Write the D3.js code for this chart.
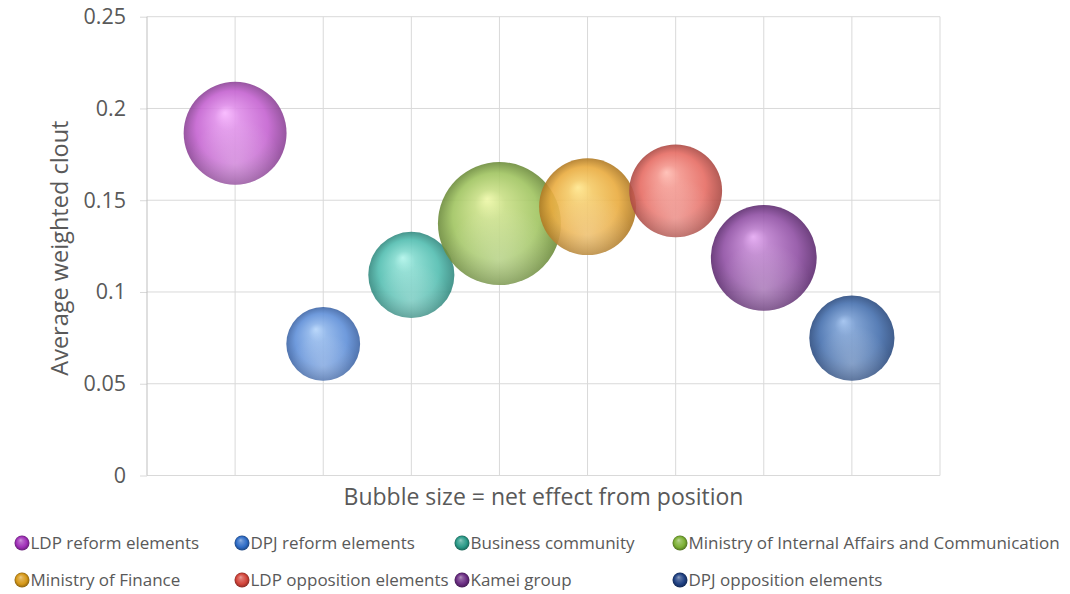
<!DOCTYPE html>
<html>
<head>
<meta charset="utf-8">
<script src="https://cdn.jsdelivr.net/npm/d3@7"></script>
<style>
  body { margin: 0; background: #fff; }
  svg { display: block; font-family: "Open Sans", "Liberation Sans", sans-serif; }
</style>
</head>
<body>
<div id="chart"></div>
<script>
// data
var groups = ["LDP reform elements", "DPJ reform elements", "Business community",
              "Ministry of Internal Affairs and Communication", "Ministry of Finance",
              "LDP opposition elements", "Kamei group", "DPJ opposition elements"];
var clout = [0.1865, 0.0717, 0.1093, 0.1373, 0.1465, 0.1551, 0.1186, 0.0749];
var netEffect = [0.070, 0.036, 0.049, 0.100, 0.062, 0.057, 0.074, 0.048];
var yTicks = [0, 0.05, 0.1, 0.15, 0.2, 0.25];
var yTickLabels = ["0", "0.05", "0.1", "0.15", "0.2", "0.25"];

// sphere colours: highlight, base, edge
var lightCols = ["#f8b6ff", "#b4d4fa", "#b0f4ea", "#eef8a8", "#ffe68c", "#ffbcb2", "#e4a8f2", "#9ec0ee"];
var baseCols  = ["#c462d0", "#5f8fd8", "#52bdb0", "#a0c460", "#e9ab3e", "#e66c63", "#9050a4", "#4670ae"];
var edgeCols  = ["#8c4496", "#3f66a6", "#348a80", "#6d8c3c", "#b07a24", "#ab4a44", "#5e2c70", "#2c4c80"];
// legend markers are darker / more saturated
var legendCols = ["#a030b8", "#2e6cc6", "#2a9a88", "#7cb034", "#d69818", "#d2443a", "#6a2c82", "#1f4082"];

var W = 1070, H = 594;
var margin = {top: 16.7, right: 130, bottom: 118.5, left: 147},
    width = W - margin.left - margin.right,
    height = H - margin.top - margin.bottom;

var svg = d3.select("#chart").append("svg")
    .attr("width", W)
    .attr("height", H);

var defs = svg.append("defs");

function sphereGrad(id, light, base, edge) {
  var g = defs.append("radialGradient")
      .attr("id", id)
      .attr("cx", "50%").attr("cy", "50%").attr("r", "50%")
      .attr("fx", "40%").attr("fy", "30%");
  g.append("stop").attr("offset", "0%").attr("stop-color", light);
  g.append("stop").attr("offset", "25%").attr("stop-color", d3.interpolateRgb(light, base)(0.5));
  g.append("stop").attr("offset", "70%").attr("stop-color", base);
  g.append("stop").attr("offset", "100%").attr("stop-color", edge);
}

groups.forEach(function(d, i) {
  sphereGrad("sph" + i, lightCols[i], baseCols[i], edgeCols[i]);
  sphereGrad("leg" + i, d3.interpolateRgb(legendCols[i], "#fff")(0.5), legendCols[i],
             d3.interpolateRgb(legendCols[i], "#000")(0.35));
});

// soft bottom reflection
var refl = defs.append("radialGradient")
    .attr("id", "refl")
    .attr("cx", "50%").attr("cy", "80%").attr("r", "45%");
refl.append("stop").attr("offset", "0%").attr("stop-color", "#fff").attr("stop-opacity", 0.28);
refl.append("stop").attr("offset", "100%").attr("stop-color", "#fff").attr("stop-opacity", 0);

var g = svg.append("g")
    .attr("transform", "translate(" + margin.left + "," + margin.top + ")");

var x = d3.scaleLinear()
    .domain([0, groups.length + 1])
    .range([0, width]);

var y = d3.scaleLinear()
    .domain([0, 0.25])
    .range([height, 0]);

var r = d3.scaleSqrt()
    .domain([0, d3.max(netEffect)])
    .range([0, 61.5]);

// vertical gridlines
g.selectAll(".vgrid")
    .data(d3.range(1, groups.length + 2))
  .enter().append("line")
    .attr("class", "vgrid")
    .attr("x1", function(d) { return x(d); })
    .attr("x2", function(d) { return x(d); })
    .attr("y1", 0)
    .attr("y2", height)
    .style("stroke", "#d9d9d9")
    .style("stroke-width", 1);

// y axis with gridlines
var yAxis = g.append("g")
    .attr("class", "y axis")
    .call(d3.axisLeft(y)
      .tickValues(yTicks)
      .tickSize(7)
      .tickPadding(14)
      .tickFormat(function(d, i) { return yTickLabels[i]; }));

yAxis.select(".domain").remove();
yAxis.selectAll(".tick line").style("stroke", "#d9d9d9");
yAxis.selectAll(".tick text")
    .style("font-size", "21.5px")
    .style("fill", "#595959")
    .style("font-family", "'Open Sans', sans-serif");

g.selectAll(".hgrid")
    .data(yTicks)
  .enter().append("line")
    .attr("class", "hgrid")
    .attr("x1", 0)
    .attr("x2", width)
    .attr("y1", function(d) { return y(d); })
    .attr("y2", function(d) { return y(d); })
    .style("stroke", "#d9d9d9")
    .style("stroke-width", 1);

// left axis line
g.append("line")
    .attr("x1", 0).attr("x2", 0)
    .attr("y1", 0).attr("y2", height)
    .style("stroke", "#bfbfbf")
    .style("stroke-width", 1);

// bubbles
var bubbles = g.selectAll(".bubble")
    .data(groups)
  .enter().append("g")
    .attr("class", "bubble")
    .attr("transform", function(d, i) { return "translate(" + x(i + 1) + "," + y(clout[i]) + ")"; });

bubbles.append("circle")
    .attr("r", function(d, i) { return r(netEffect[i]); })
    .style("fill", function(d, i) { return "url(#sph" + i + ")"; })
    .style("fill-opacity", 0.9);

bubbles.append("circle")
    .attr("r", function(d, i) { return r(netEffect[i]); })
    .style("fill", "url(#refl)");

// axis titles
g.append("text")
    .attr("x", width / 2)
    .attr("y", height + 30)
    .style("text-anchor", "middle")
    .style("font-size", "23px")
    .style("fill", "#595959")
    .text("Bubble size = net effect from position");

g.append("text")
    .attr("transform", "rotate(-90)")
    .attr("x", -height / 2 - 2)
    .attr("y", -79)
    .style("text-anchor", "middle")
    .style("font-size", "23.5px")
    .style("fill", "#595959")
    .text("Average weighted clout");

// legend
var legendColX = [22, 242, 462, 680];
var legendRowY = [543, 580];

var legend = svg.selectAll(".legend")
    .data(groups)
  .enter().append("g")
    .attr("class", "legend")
    .attr("transform", function(d, i) {
      return "translate(" + legendColX[i % 4] + "," + legendRowY[Math.floor(i / 4)] + ")";
    });

legend.append("circle")
    .attr("r", 7.5)
    .style("fill", function(d, i) { return "url(#leg" + i + ")"; });

legend.append("text")
    .attr("x", 8.5)
    .attr("y", 6)
    .style("font-size", "17px")
    .style("fill", "#595959")
    .text(function(d) { return d; });
</script>
</body>
</html>
